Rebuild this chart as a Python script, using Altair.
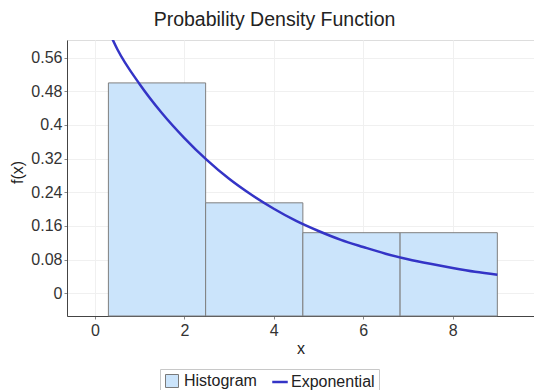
import altair as alt
import pandas as pd

# Histogram bins (edges) and bar heights
bin_start = [0.3, 2.475, 4.65, 6.825]
bin_end = [2.475, 4.65, 6.825, 9.0]
bin_density = [0.5, 0.215, 0.144, 0.144]

# Fitted exponential density, sampled along x
curve_x = [0.3, 0.5, 1.0, 1.5, 2.0, 2.5, 3.0, 3.5, 4.0, 4.5, 5.0,
           5.5, 6.0, 6.5, 7.0, 7.5, 8.0, 8.5, 9.0]
curve_y = [0.625, 0.58, 0.497, 0.428, 0.369, 0.317, 0.272, 0.234, 0.201,
           0.172, 0.148, 0.127, 0.110, 0.094, 0.081, 0.070, 0.060, 0.051, 0.044]

x_ticks = [0, 2, 4, 6, 8]
y_ticks = [0, 0.08, 0.16, 0.24, 0.32, 0.4, 0.48, 0.56]
x_domain = [-0.626, 9.82]
y_domain = [-0.054, 0.602]

fill_blue = "#cbe4fb"
line_blue = "#3434c6"
font = "Liberation Sans"

hist = pd.DataFrame({
    "x": bin_start,
    "x2": bin_end,
    "y": bin_density,
    "base": [y_domain[0]] * len(bin_start),
    "series": ["Histogram"] * len(bin_start),
})
curve = pd.DataFrame({
    "x": curve_x,
    "y": curve_y,
    "series": ["Exponential"] * len(curve_x),
})

legend_common = dict(
    title=None,
    orient="none",
    legendX=93,
    legendY=329,
    direction="horizontal",
    padding=4,
    labelFont=font,
    labelFontSize=16,
    labelColor="#222222",
    labelLimit=400,
)

# Both legends share one origin; the Exponential legend is shifted right
# inside its own frame, so that frame encloses the Histogram entry as well
fill_enc = alt.Fill(
    "series:N",
    scale=alt.Scale(domain=["Histogram"], range=[fill_blue]),
    legend=alt.Legend(
        labelOffset=4,
        symbolType="square",
        symbolSize=169,
        symbolStrokeColor="#7a7a7a",
        symbolStrokeWidth=1,
        **legend_common,
    ),
)
stroke_enc = alt.Stroke(
    "series:N",
    scale=alt.Scale(domain=["Exponential"], range=[line_blue]),
    legend=alt.Legend(
        strokeColor="#c8c8c8",
        symbolOffset=107,
        labelOffset=2,
        symbolType="stroke",
        symbolSize=240,
        symbolStrokeWidth=2.5,
        **legend_common,
    ),
)

axis_common = dict(
    titleFont=font,
    titleFontSize=16,
    titleFontWeight="normal",
    titleColor="#222222",
    titleBaseline="alphabetic",
    labelFont=font,
    labelFontSize=16,
    labelColor="#333333",
    labelOverlap=False,
    tickSize=3,
    tickColor="#888888",
    domainColor="#444444",
    gridColor="#f0f0f0",
)

x_enc = alt.X(
    "x:Q",
    scale=alt.Scale(domain=x_domain, nice=False, zero=False),
    axis=alt.Axis(
        values=x_ticks,
        title="x",
        titleY=37,
        labelPadding=3,
        **axis_common,
    ),
)
y_enc = alt.Y(
    "y:Q",
    scale=alt.Scale(domain=y_domain, nice=False, zero=False),
    axis=alt.Axis(
        values=y_ticks,
        format=".2~f",
        title="f(x)",
        titleAngle=270,
        titleX=-45,
        titleY=132,
        labelPadding=2,
        labelBound=False,
        **axis_common,
    ),
)

bars = alt.Chart(hist).mark_bar(stroke="#7f7f7f", strokeWidth=1, opacity=1).encode(
    x=x_enc,
    x2="x2:Q",
    y=y_enc,
    y2="base:Q",
    fill=fill_enc,
)

line = alt.Chart(curve).mark_line(strokeWidth=2.5, clip=True, interpolate="monotone").encode(
    x=x_enc,
    y=y_enc,
    stroke=stroke_enc,
)

chart = (
    alt.layer(bars, line)
    .resolve_scale(fill="independent", stroke="independent")
    .properties(
        width=467,
        height=276,
        autosize=alt.AutoSizeParams(type="none"),
        padding={"left": 67, "top": 40, "right": 0, "bottom": 74},
        title=alt.TitleParams(
            "Probability Density Function",
            font=font,
            fontSize=19.5,
            fontWeight="normal",
            color="#222222",
            anchor="middle",
            baseline="alphabetic",
            offset=16,
            dx=-26,
            dy=21,
        ),
    )
    .configure_view(stroke="#9a9a9a", strokeWidth=1.5)
    .configure_axis(labelOverlap=False)
    .configure(background="white")
)

chart.save("out.html", embed_options={"renderer": "svg", "actions": False})
